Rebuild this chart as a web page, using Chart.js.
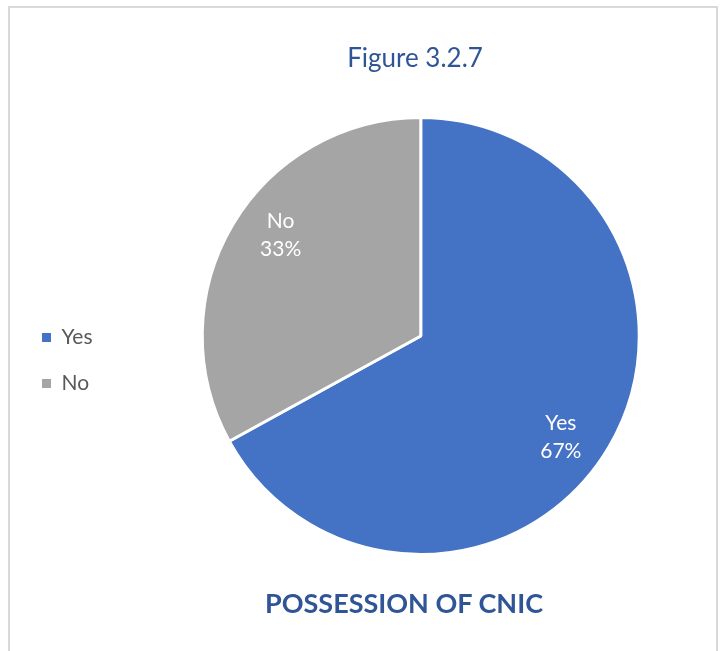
<!DOCTYPE html>
<html>
<head>
<meta charset="utf-8">
<title>Possession of CNIC</title>
<script src="https://cdn.jsdelivr.net/npm/chart.js@4.4.1/dist/chart.umd.min.js"></script>
<style>
  html, body { margin: 0; padding: 0; background: #fff; overflow: hidden; }
  #wrap { position: relative; width: 724px; height: 651px; overflow: hidden; }
  #frame { position: absolute; left: 8px; top: 6px; width: 706px; height: 700px; border: 2px solid #d9d9d9; }
  #pie { position: absolute; left: 0; top: 0; }
  .caption { position: absolute; text-align: center; font-family: Lato, sans-serif; color: #2f5597; white-space: nowrap; }
  #figTitle { left: 265px; width: 300px; top: 44px; font-size: 26px; line-height: 26px; }
  #chartTitle { left: 204px; width: 400px; top: 589px; font-size: 27px; line-height: 27px; font-weight: bold; }
</style>
</head>
<body>
<div id="wrap">
  <div id="frame"></div>
  <canvas id="pie" width="739" height="651"></canvas>
  <div class="caption" id="figTitle">Figure 3.2.7</div>
  <div class="caption" id="chartTitle">POSSESSION OF CNIC</div>
</div>
<script>
const categories = ['Yes', 'No'];
const shares = [67, 33];
const sliceColors = ['#4472c4', '#a5a5a5'];

// writes "Yes / 67%" style labels inside each slice
const sliceLabels = {
    id: 'sliceLabels',
    afterDatasetsDraw(chart) {
        let ctx = chart.ctx;
        let meta = chart.getDatasetMeta(0);
        let total = shares.reduce((a, b) => a + b, 0);
        ctx.save();
        ctx.font = '21px Lato, sans-serif';
        ctx.fillStyle = '#ffffff';
        ctx.textAlign = 'center';
        ctx.textBaseline = 'middle';
        meta.data.forEach(function (arc, i) {
            let p = arc.getProps(['x', 'y', 'startAngle', 'endAngle', 'outerRadius'], true);
            let mid = (p.startAngle + p.endAngle) / 2 + 0.09;
            let r = p.outerRadius * 0.79;
            let x = p.x + Math.cos(mid) * r;
            let y = p.y + Math.sin(mid) * r;
            ctx.fillText(categories[i], x, y - 14);
            ctx.fillText(Math.round(shares[i] / total * 100) + '%', x, y + 14);
        });
        ctx.restore();
    }
};

let ctx1 = document.getElementById('pie').getContext('2d');
new Chart(ctx1, {
    type: 'pie',
    data: {
        labels: categories,
        datasets: [{
            data: shares,
            backgroundColor: sliceColors,
            borderColor: '#ffffff',
            borderWidth: 3
        }]
    },
    options: {
        responsive: false,
        animation: false,
        layout: {
            padding: { left: 17, right: 0, top: 116, bottom: 95 }
        },
        plugins: {
            tooltip: { enabled: false },
            legend: {
                position: 'left',
                // empty title just pushes the two rows a bit lower
                title: { display: true, text: '', font: { size: 10, lineHeight: 1 }, padding: { top: 39, bottom: 0 } },
                labels: {
                    boxWidth: 9,
                    boxHeight: 9,
                    padding: 25,
                    color: '#595959',
                    font: { family: 'Lato, sans-serif', size: 21 },
                    generateLabels: function (chart) {
                        return Chart.overrides.pie.plugins.legend.labels.generateLabels(chart).map(function (item) {
                            item.lineWidth = 0;
                            item.strokeStyle = item.fillStyle;
                            return item;
                        });
                    }
                }
            }
        }
    },
    plugins: [sliceLabels]
});
</script>
</body>
</html>
